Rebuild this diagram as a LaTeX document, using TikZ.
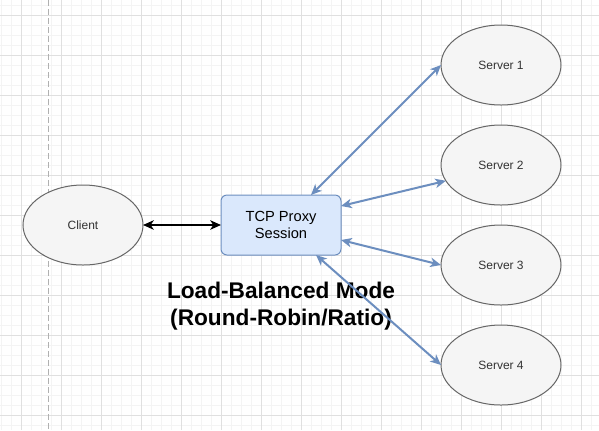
\documentclass[tikz,border=0pt]{standalone}
\usepackage{fontspec}
\setmainfont{Liberation Sans}
\usetikzlibrary{shapes.geometric,arrows.meta,calc}
\definecolor{gridminor}{HTML}{F4F4F4}
\definecolor{gridmajor}{HTML}{E0E0E0}
\definecolor{dashgray}{HTML}{B0B0B0}
\definecolor{ellfill}{HTML}{F5F5F5}
\definecolor{ellstroke}{HTML}{666666}
\definecolor{txtgray}{HTML}{333333}
\definecolor{bluefill}{HTML}{DAE8FC}
\definecolor{bluestroke}{HTML}{6C8EBF}
\begin{document}
\begin{tikzpicture}[x=0.75pt,y=-0.75pt,
  minorline/.style={draw=gridminor,line width=0.75pt},
  majorline/.style={draw=gridmajor,line width=0.75pt},
  srv/.style={ellipse,draw=ellstroke,fill=ellfill,line width=0.75pt,
    minimum width=90pt,minimum height=60pt,inner sep=0pt,outer sep=0pt,
    text=txtgray,font=\fontsize{9}{10.8}\selectfont},
  proxy/.style={rectangle,rounded corners=4.5pt,draw=bluestroke,fill=bluefill,
    line width=0.75pt,minimum width=90pt,minimum height=45pt,inner sep=0pt,
    outer sep=0pt,align=center,font=\fontsize{11}{13.2}\selectfont},
  titletext/.style={align=center,inner sep=0pt,
    font=\fontsize{17}{20.5}\selectfont\bfseries},
  tip/.tip={Stealth[length=8pt,width=7pt,inset=2.2pt]},
  link/.style={draw=bluestroke,line width=1.5pt,tip-tip},
  clink/.style={draw=black,line width=1.5pt,tip-tip}
]
\useasboundingbox (0,0) rectangle (599,430);
\fill[white] (0,0) rectangle (599,430);
% grid
\foreach \x in {1,11,...,591} \draw[minorline] (\x,0) -- (\x,430);
\foreach \y in {5,15,...,425} \draw[minorline] (0,\y) -- (599,\y);
\foreach \x in {21,61,...,581} \draw[majorline] (\x,0) -- (\x,430);
\foreach \y in {15,55,...,415} \draw[majorline] (0,\y) -- (599,\y);
% dashed divider
\draw[dashgray,line width=0.75pt,dash pattern=on 4.5pt off 2.25pt] (48,0) -- (48,430);
% nodes
\node[srv] (client) at (83,225) {Client};
\node[proxy] (proxy) at (281,225) {TCP Proxy\\Session};
\node[srv] (s1) at (501,65) {Server 1};
\node[srv] (s2) at (501,165) {Server 2};
\node[srv] (s3) at (501,265) {Server 3};
\node[srv] (s4) at (501,365) {Server 4};
\node[titletext] (title) at (281,306) {Load-Balanced Mode\\(Round-Robin/Ratio)};
% connectors
\draw[clink] (client.east) -- (proxy.west);
\draw[link] ($(proxy.north)+(30,0)$) -- (s1.west);
\draw[link] ($(proxy.east)+(0,-19)$) -- (s2.196);
\draw[link] ($(proxy.east)+(0,15)$) -- (s3.west);
\draw[link] ($(proxy.south)+(35,0)$) -- (s4.west);
\end{tikzpicture}
\end{document}
